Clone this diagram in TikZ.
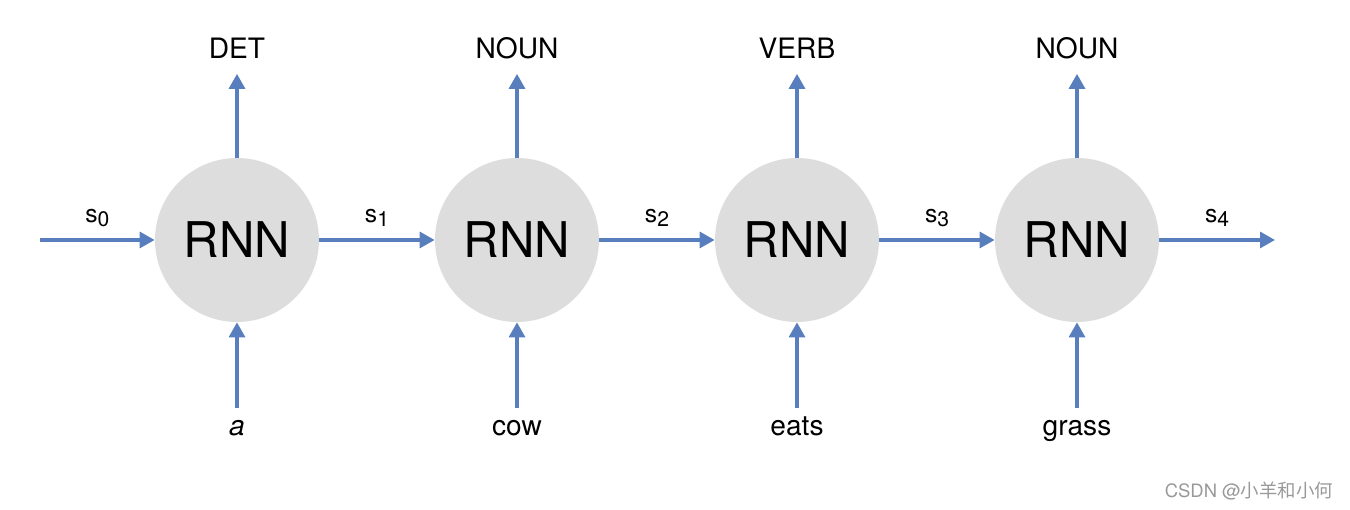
\documentclass[tikz,border=0pt]{standalone}
\usepackage{fontspec}
\setmainfont{TeX Gyre Heros}
\newfontfamily\cjkfont{Noto Sans CJK SC}
\usetikzlibrary{arrows.meta}

\definecolor{flowblue}{RGB}{88,126,189}
\definecolor{cellgray}{RGB}{221,221,221}

\newcommand{\stsub}[1]{s\raisebox{-0.3ex}{\fontsize{12}{14}\selectfont #1}}

\tikzset{
  cell/.style={circle, fill=cellgray, minimum size=3.28cm, inner sep=0pt,
    font=\fontsize{28}{30}\selectfont},
  flow/.style={draw=flowblue, line width=1.9pt,
    -{Triangle[width=9pt, length=8.5pt]}},
  tag/.style={font=\fontsize{16}{18}\selectfont, inner sep=0pt,
    text height=1.2ex, text depth=0pt},
  word/.style={font=\fontsize{16}{18}\selectfont, inner sep=0pt,
    text height=1.1ex, text depth=0.25ex},
  state/.style={font=\fontsize{14}{16}\selectfont, above=0.12cm}
}

\begin{document}
\begin{tikzpicture}

\useasboundingbox (0,0) rectangle (27,10.2);

% recurrent cells
\draw (4.74, 5.4) node[cell] (rnn1) {RNN};
\draw (10.34, 5.4) node[cell] (rnn2) {RNN};
\draw (15.94, 5.4) node[cell] (rnn3) {RNN};
\draw (21.54, 5.4) node[cell] (rnn4) {RNN};

% output tags
\draw (4.74, 9.14) node[tag] (tag1) {DET};
\draw (10.34, 9.14) node[tag] (tag2) {NOUN};
\draw (15.94, 9.14) node[tag] (tag3) {VERB};
\draw (21.54, 9.14) node[tag] (tag4) {NOUN};

% input words
\draw (4.74, 1.56) node[word] (word1) {\itshape a};
\draw (10.34, 1.56) node[word] (word2) {cow};
\draw (15.94, 1.56) node[word] (word3) {eats};
\draw (21.54, 1.56) node[word] (word4) {grass};

\coordinate (start) at (0.8, 5.4);
\coordinate (stop) at (25.5, 5.4);

\draw[flow, shorten >=0.3cm] (rnn1) -- (tag1);
\draw[flow, shorten >=0.3cm] (rnn2) -- (tag2);
\draw[flow, shorten >=0.3cm] (rnn3) -- (tag3);
\draw[flow, shorten >=0.3cm] (rnn4) -- (tag4);

\draw[flow, shorten <=0.34cm] (word1) -- (rnn1);
\draw[flow, shorten <=0.34cm] (word2) -- (rnn2);
\draw[flow, shorten <=0.34cm] (word3) -- (rnn3);
\draw[flow, shorten <=0.34cm] (word4) -- (rnn4);

% hidden states
\draw[flow] (start) -- node[state] {\stsub{0}} (rnn1);
\draw[flow] (rnn1) -- node[state] {\stsub{1}} (rnn2);
\draw[flow] (rnn2) -- node[state] {\stsub{2}} (rnn3);
\draw[flow] (rnn3) -- node[state] {\stsub{3}} (rnn4);
\draw[flow] (rnn4) -- node[state] {\stsub{4}} (stop);

\draw (24.98, 0.38) node[text=gray!80, font=\fontsize{10.5}{12}\selectfont] (mark)
  {CSDN @{\cjkfont 小羊和小何}};

\end{tikzpicture}
\end{document}
